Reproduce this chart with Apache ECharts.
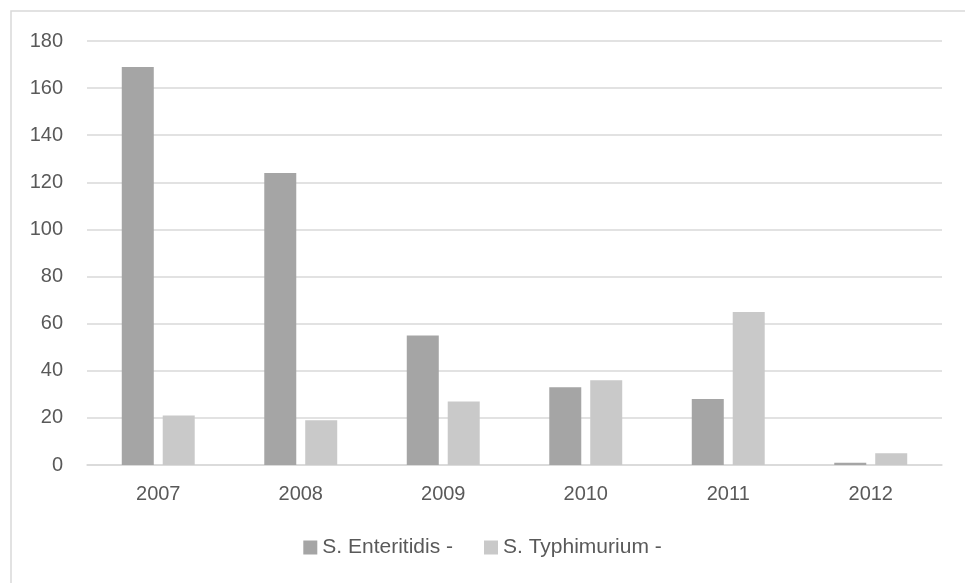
<!DOCTYPE html>
<html>
<head>
<meta charset="utf-8">
<script src="https://cdn.jsdelivr.net/npm/echarts@6/dist/echarts.min.js"></script>
<style>
html,body{margin:0;padding:0;background:#fff;}
#chart{width:965px;height:583px;}
</style>
</head>
<body>
<div id="chart"></div>
<script>
const categories = ['2007', '2008', '2009', '2010', '2011', '2012'];
const enteritidis = [169, 124, 55, 33, 28, 1];
const typhimurium = [21, 19, 27, 36, 65, 5];
const seriesNames = ['S. Enteritidis -', 'S. Typhimurium -'];

const textColor = '#595959';
const fontFamily = '"Liberation Sans", Arial, sans-serif';
const chart = echarts.init(document.getElementById('chart'), null, {renderer: 'canvas'});
chart.setOption({
  animation: false,
  backgroundColor: '#fff',
  graphic: [{
    type: 'rect',
    shape: {x: 11, y: 11, width: 970, height: 590},
    style: {fill: 'none', stroke: '#d9d9d9', lineWidth: 1.5},
    silent: true
  }],
  grid: {left: 87, right: 23, top: 41, bottom: 118, containLabel: false},
  legend: {
    data: seriesNames,
    bottom: 20,
    left: 'center',
    itemWidth: 14,
    itemHeight: 14,
    itemGap: 31,
    icon: 'rect',
    textStyle: {color: textColor, fontSize: 21, fontFamily: fontFamily}
  },
  xAxis: {
    type: 'category',
    data: categories,
    axisLine: {lineStyle: {color: '#d9d9d9', width: 1.5}},
    axisTick: {show: false},
    axisLabel: {color: textColor, fontSize: 20, fontFamily: fontFamily, margin: 19}
  },
  yAxis: {
    type: 'value',
    min: 0,
    max: 180,
    interval: 20,
    axisLine: {show: false},
    axisTick: {show: false},
    splitLine: {lineStyle: {color: '#d9d9d9', width: 1.5}},
    axisLabel: {color: textColor, fontSize: 20, fontFamily: fontFamily, margin: 24}
  },
  series: [
    {
      name: seriesNames[0],
      type: 'bar',
      data: enteritidis,
      barWidth: 32,
      barGap: '28%',
      itemStyle: {color: '#a5a5a5'}
    },
    {
      name: seriesNames[1],
      type: 'bar',
      data: typhimurium,
      barWidth: 32,
      barGap: '28%',
      itemStyle: {color: '#c9c9c9'}
    }
  ]
});
</script>
</body>
</html>
